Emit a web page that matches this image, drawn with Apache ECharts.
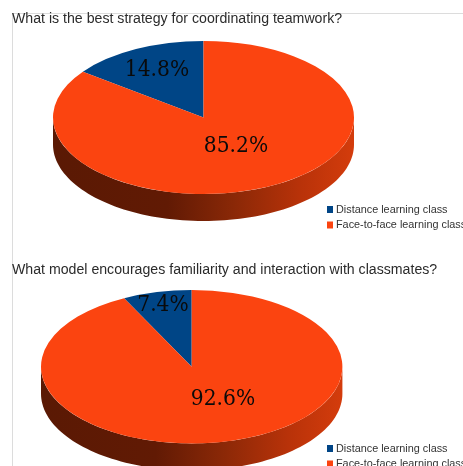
<!DOCTYPE html>
<html>
<head>
<meta charset="utf-8">
<style>html,body{margin:0;padding:0;background:#fff}#chart{width:463px;height:466px}</style>
<script src="https://cdn.jsdelivr.net/npm/echarts@6/dist/echarts.min.js"></script>
</head>
<body>
<div id="chart"></div>
<script>
// Survey answers, one pair of shares per question
const categories = ['Distance learning class', 'Face-to-face learning class'];
const titles = [
  'What is the best strategy for coordinating teamwork?',
  'What model encourages familiarity and interaction with classmates?'
];
const teamworkShares = [14.8, 85.2];
const familiarityShares = [7.4, 92.6];
const sliceColors = ['#004586', '#fb4410'];

// Placement of each tilted disc: centre, radii, rim depth, label anchors
const discs = [
  { shares: teamworkShares, cx: 203.5, cy: 117.5, rx: 150.5, ry: 76.5, depth: 27,
    labels: [[157, 70.5], [236, 146.5]], titleTop: 12.5, legendTop: 204 },
  { shares: familiarityShares, cx: 191.7, cy: 366.7, rx: 150.7, ry: 76.7, depth: 27,
    labels: [[163, 305], [223, 399.5]], titleTop: 263.5, legendTop: 443 }
];

const labelFont = '22.5px "DejaVu Serif Condensed"';

// The visible rim: lower half of the ellipse pushed down by the depth
function rimSeries(disc) {
  return {
    type: 'custom',
    coordinateSystem: 'none',
    silent: true,
    data: [0],
    renderItem: function () {
      const pts = [];
      for (let i = 0; i <= 90; i++) {
        const t = Math.PI * i / 90;
        pts.push([disc.cx + disc.rx * Math.cos(t), disc.cy + disc.ry * Math.sin(t) + disc.depth]);
      }
      for (let i = 90; i >= 0; i--) {
        const t = Math.PI * i / 90;
        pts.push([disc.cx + disc.rx * Math.cos(t), disc.cy + disc.ry * Math.sin(t)]);
      }
      return {
        type: 'polygon',
        shape: { points: pts },
        style: {
          fill: new echarts.graphic.LinearGradient(0, 0, 1, 0, [
            { offset: 0, color: '#5a1904' },
            { offset: 0.38, color: '#611a04' },
            { offset: 0.6, color: '#8a2807' },
            { offset: 0.82, color: '#b83209' },
            { offset: 1, color: '#d43c0c' }
          ])
        }
      };
    }
  };
}

// One slice of a disc, drawn as a sector squashed vertically into the ellipse
function sliceSeries(disc, index) {
  const before = disc.shares.slice(0, index).reduce((a, b) => a + b, 0);
  return {
    type: 'custom',
    name: categories[index],
    coordinateSystem: 'none',
    silent: true,
    itemStyle: { color: sliceColors[index] },
    data: [disc.shares[index]],
    renderItem: function (params, api) {
      const share = api.value(0);
      const start = -Math.PI / 2 - before / 100 * 2 * Math.PI;
      const end = start - share / 100 * 2 * Math.PI;
      const anchor = disc.labels[index];
      return {
        type: 'group',
        children: [
          {
            type: 'group',
            x: disc.cx,
            y: disc.cy,
            scaleY: disc.ry / disc.rx,
            children: [{
              type: 'sector',
              shape: { cx: 0, cy: 0, r0: 0, r: disc.rx, startAngle: start, endAngle: end, clockwise: false },
              style: { fill: sliceColors[index] }
            }]
          },
          {
            type: 'text',
            z2: 10,
            style: {
              text: share.toFixed(1) + '%',
              x: anchor[0],
              y: anchor[1],
              align: 'center',
              verticalAlign: 'middle',
              font: labelFont,
              fill: '#0a0a0a'
            }
          }
        ]
      };
    }
  };
}

const series = [];
discs.forEach(function (disc) {
  series.push(rimSeries(disc));
  disc.shares.forEach(function (_, i) { series.push(sliceSeries(disc, i)); });
});

const chart = echarts.init(document.getElementById('chart'), null, { renderer: 'canvas' });
chart.setOption({
  animation: false,
  backgroundColor: '#fff',
  title: discs.map(function (disc, i) {
    return {
      text: titles[i],
      left: 12,
      top: disc.titleTop,
      padding: 0,
      textStyle: { fontFamily: '"Liberation Sans"', fontSize: 14.15, fontWeight: 'normal', color: '#2b2b2b' }
    };
  }),
  legend: discs.map(function (disc) {
    return {
      data: categories,
      orient: 'vertical',
      left: 327,
      top: disc.legendTop,
      height: 60,
      padding: 0,
      itemWidth: 6,
      itemHeight: 7,
      itemGap: 4.5,
      icon: 'rect',
      selectedMode: false,
      textStyle: { fontFamily: '"Liberation Sans"', fontSize: 10.85, color: '#333', padding: [0, 0, 0, -2] }
    };
  }),
  graphic: [
    { type: 'line', silent: true, shape: { x1: 12.5, y1: 13.5, x2: 463, y2: 13.5 }, style: { stroke: '#dcdcdc', lineWidth: 1 } },
    { type: 'line', silent: true, shape: { x1: 12.5, y1: 13.5, x2: 12.5, y2: 466 }, style: { stroke: '#dcdcdc', lineWidth: 1 } }
  ],
  series: series
});
</script>
</body>
</html>
